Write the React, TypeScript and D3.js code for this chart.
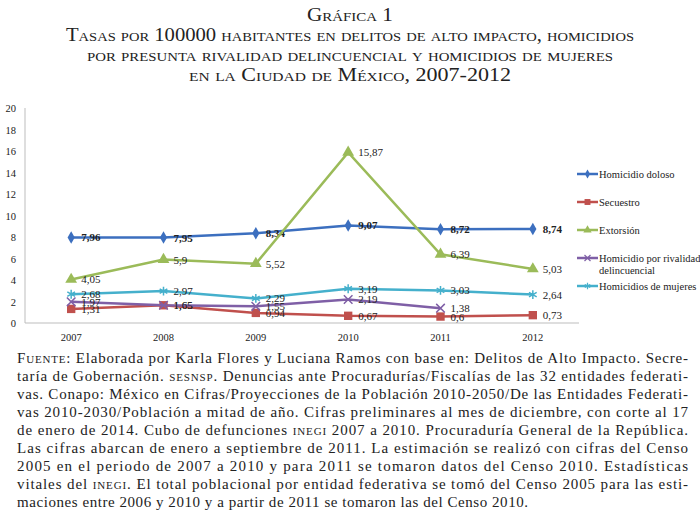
import React from "react";
import * as d3 from "d3";

const years = ["2007", "2008", "2009", "2010", "2011", "2012"];
const yTicks = [0, 2, 4, 6, 8, 10, 12, 14, 16, 18, 20];

const homicidioDoloso = [7.96, 7.95, 8.34, 9.07, 8.72, 8.74];
const secuestro = [1.31, 1.65, 0.94, 0.67, 0.6, 0.73];
const extorsion = [4.05, 5.9, 5.52, 15.87, 6.39, 5.03];
const rivalidad = [1.97, 1.65, 1.55, 2.19, 1.38, null];
const mujeres = [2.68, 2.97, 2.29, 3.19, 3.03, 2.64];

const seriesNames = [
  "Homicidio doloso",
  "Secuestro",
  "Extorsión",
  "Homicidio por rivalidad|delincuencial",
  "Homicidios de mujeres",
];

const titleLines = [
  "Gráfica 1",
  "Tasas por 100000 habitantes en delitos de alto impacto, homicidios",
  "por presunta rivalidad delincuencial y homicidios de mujeres",
  "en la Ciudad de México, 2007-2012",
];
const titleWidths = [86, 568, 526, 322];

const footerLines = [
  "Fuente: Elaborada por Karla Flores y Luciana Ramos con base en: Delitos de Alto Impacto. Secre-",
  "taría de Gobernación. sesnsp. Denuncias ante Procuradurías/Fiscalías de las 32 entidades federati-",
  "vas. Conapo: México en Cifras/Proyecciones de la Población 2010-2050/De las Entidades Federati-",
  "vas 2010-2030/Población a mitad de año. Cifras preliminares al mes de diciembre, con corte al 17",
  "de enero de 2014. Cubo de defunciones inegi 2007 a 2010. Procuraduría General de la República.",
  "Las cifras abarcan de enero a septiembre de 2011. La estimación se realizó con cifras del Censo",
  "2005 en el periodo de 2007 a 2010 y para 2011 se tomaron datos del Censo 2010. Estadísticas",
  "vitales del inegi. El total poblacional por entidad federativa se tomó del Censo 2005 para las esti-",
  "maciones entre 2006 y 2010 y a partir de 2011 se tomaron las del Censo 2010.",
];

const serif = "'Liberation Serif', 'DejaVu Serif', serif";

type Series = {
  name: string;
  values: (number | null)[];
  color: string;
  symbol: d3.SymbolType;
  size: number;
  stroke: boolean;
  bold: boolean;
};

const series: Series[] = [
  { name: seriesNames[0], values: homicidioDoloso, color: "#3c6fbf", symbol: d3.symbolDiamond, size: 45, stroke: false, bold: true },
  { name: seriesNames[1], values: secuestro, color: "#c0504d", symbol: d3.symbolSquare, size: 70, stroke: false, bold: false },
  { name: seriesNames[2], values: extorsion, color: "#9bbb59", symbol: d3.symbolTriangle, size: 60, stroke: false, bold: false },
  { name: seriesNames[3], values: rivalidad, color: "#7f5fa6", symbol: d3.symbolX, size: 50, stroke: true, bold: false },
  { name: seriesNames[4], values: mujeres, color: "#45b0cc", symbol: d3.symbolAsterisk, size: 55, stroke: true, bold: false },
];

export default function App() {
  const width = 700;
  const height = 530;

  const x = d3.scaleBand().domain(years).range([25, 579]);
  const y = d3.scaleLinear().domain([0, 20]).range([323, 108]);
  const cx = (yr: string) => (x(yr) as number) + x.bandwidth() / 2;

  const line = d3
    .line<number | null>()
    .defined((d) => d !== null)
    .x((_, i) => cx(years[i]))
    .y((d) => y(d as number));

  const fmt = (v: number) => String(v).replace(".", ",");

  const legendY = [174, 202, 230, 258, 286];

  return (
    <svg width={width} height={height} style={{ position: "absolute", left: 0, top: 0, background: "#fff" }}>
      {/* title */}
      {titleLines.map((t, i) => (
        <text
          key={i}
          x={350}
          y={21 + i * 20}
          fontSize={18.5}
          textAnchor="middle"
          fontFamily={serif}
          style={{ fontVariant: "small-caps" }}
          fill="#222"
          textLength={titleWidths[i]}
          lengthAdjust="spacingAndGlyphs"
        >
          {t}
        </text>
      ))}

      {/* axes */}
      <line x1={25} x2={25} y1={108} y2={323} stroke="#bdbdbd" />
      <line x1={25} x2={579} y1={323} y2={323} stroke="#bdbdbd" />
      {yTicks.map((t) => (
        <text key={t} x={16} y={y(t) + 4} fontSize={10.5} textAnchor="end" fontFamily={serif} fill="#222">
          {t}
        </text>
      ))}
      {years.map((yr) => (
        <text key={yr} x={cx(yr)} y={341} fontSize={10.5} textAnchor="middle" fontFamily={serif} fill="#222">
          {yr}
        </text>
      ))}

      {/* series */}
      {series.map((s) => (
        <g key={s.name}>
          <path d={line(s.values) || ""} fill="none" stroke={s.color} strokeWidth={2.5} />
          {s.values.map((v, i) =>
            v === null ? null : (
              <path
                key={i}
                transform={`translate(${cx(years[i])},${y(v)})`}
                d={d3.symbol(s.symbol, s.size)() || ""}
                fill={s.stroke ? "none" : s.color}
                stroke={s.color}
                strokeWidth={s.stroke ? 1.5 : 0}
              />
            )
          )}
          {s.values.map((v, i) =>
            v === null ? null : (
              <text
                key={"l" + i}
                x={cx(years[i]) + 10}
                y={y(v) + 4}
                fontSize={11}
                fontWeight={s.bold ? "bold" : "normal"}
                fontFamily={serif}
                fill="#222"
              >
                {fmt(v)}
              </text>
            )
          )}
        </g>
      ))}

      {/* legend */}
      {series.map((s, i) => (
        <g key={"lg" + i} transform={`translate(577,${legendY[i]})`}>
          <line x1={0} x2={21} y1={0} y2={0} stroke={s.color} strokeWidth={2.5} />
          <path
            transform="translate(10.5,0)"
            d={d3.symbol(s.symbol, s.size * 0.5)() || ""}
            fill={s.stroke ? "none" : s.color}
            stroke={s.color}
            strokeWidth={s.stroke ? 1.2 : 0}
          />
          {s.name.split("|").map((part, j) => (
            <text key={j} x={22} y={4 + j * 11.5} fontSize={10.5} fontFamily={serif} fill="#222">
              {part}
            </text>
          ))}
        </g>
      ))}

      {/* footer */}
      {footerLines.map((t, i) => (
        <text
          key={"f" + i}
          x={17}
          y={363 + i * 18}
          fontSize={15}
          fontFamily={serif}
          fill="#222"
          textLength={i < footerLines.length - 1 ? 671 : 511}
          lengthAdjust="spacing"
        >
          {renderFooter(t)}
        </text>
      ))}
    </svg>
  );
}

// words that appear in small caps inside the footer
function renderFooter(t: string) {
  const parts = t.split(/(Fuente|sesnsp|inegi)/);
  return parts.map((p, i) =>
    p === "Fuente" || p === "sesnsp" || p === "inegi" ? (
      <tspan key={i} style={{ fontVariant: "small-caps" }}>
        {p}
      </tspan>
    ) : (
      p
    )
  );
}
